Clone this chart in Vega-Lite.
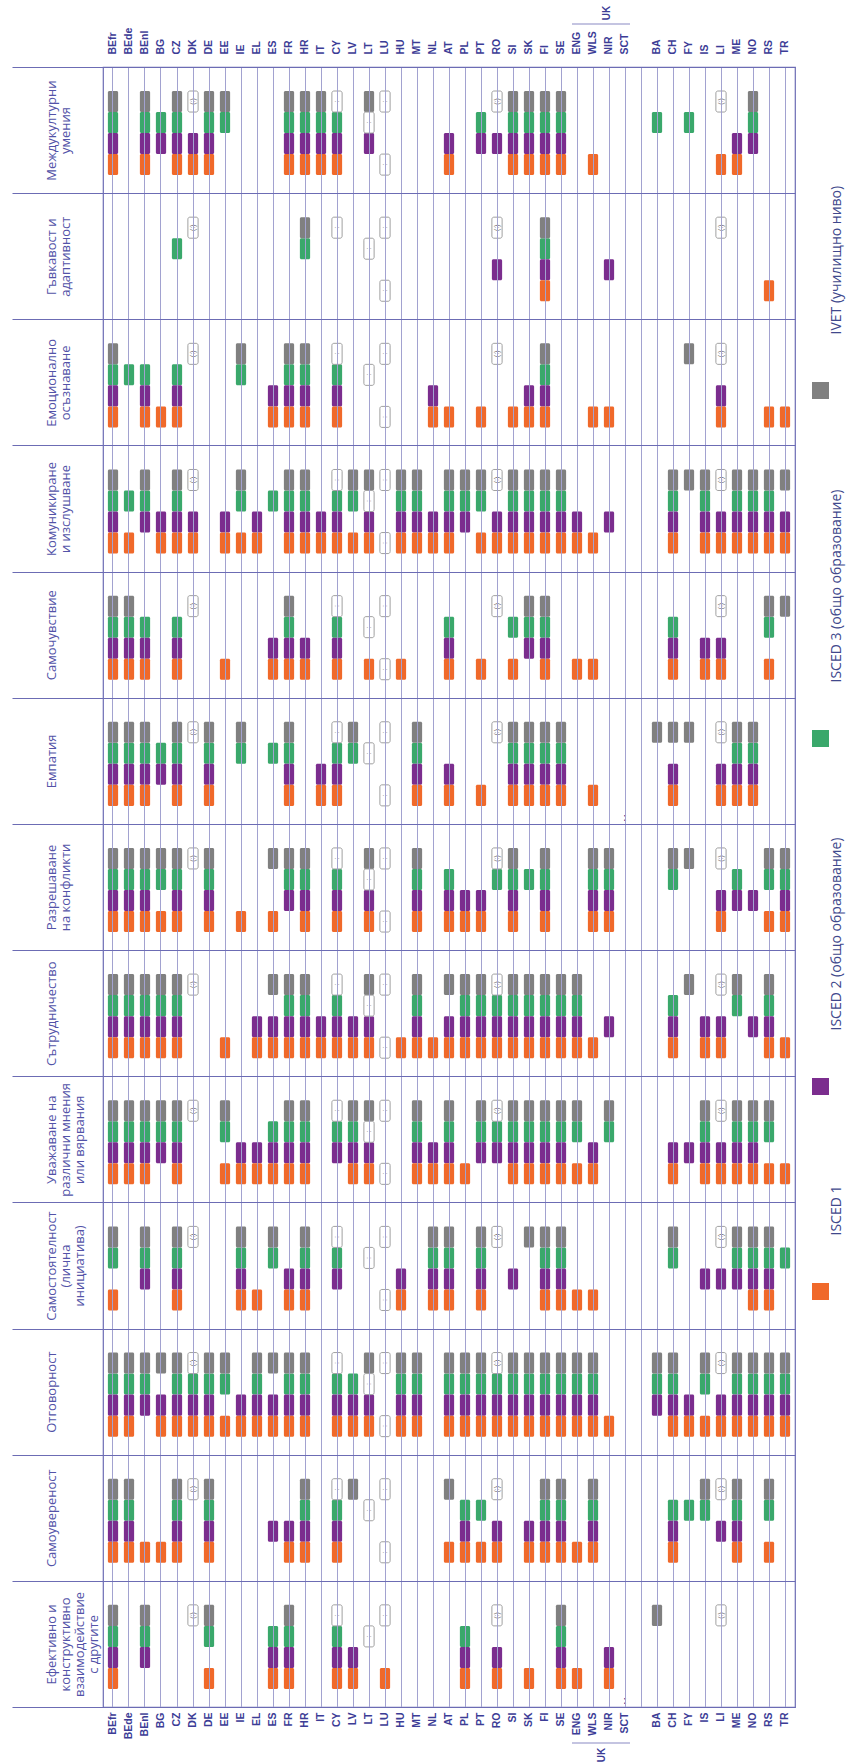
{
  "$schema": "https://vega.github.io/schema/vega-lite/v6.json",
  "width": 692,
  "height": 1640,
  "autosize": {"type": "none"},
  "padding": {"left": 103, "top": 67, "right": 52, "bottom": 57},
  "background": "white",
  "config": {"view": {"stroke": "#6c6cb4", "strokeWidth": 1.2}},
  "datasets": {
    "cells": [
      {"c":"C1","k":"BEfr","v":["IV","I3","I2","I1"]},{"c":"C1","k":"BEnl","v":["IV","I3","I2","I1"]},{"c":"C1","k":"BG","v":["I3","I2"]},{"c":"C1","k":"CZ","v":["IV","I3","I2","I1"]},{"c":"C1","k":"DK","v":["I2","I1"]},{"c":"C1","k":"DE","v":["IV","I3","I2","I1"]},{"c":"C1","k":"EE","v":["IV","I3"]},{"c":"C1","k":"FR","v":["IV","I3","I2","I1"]},{"c":"C1","k":"HR","v":["IV","I3","I2","I1"]},{"c":"C1","k":"IT","v":["IV","I3","I2","I1"]},{"c":"C1","k":"CY","v":["I3","I2","I1"]},{"c":"C1","k":"LT","v":["IV","I2"]},{"c":"C1","k":"AT","v":["I2","I1"]},{"c":"C1","k":"PT","v":["I3","I2"]},{"c":"C1","k":"RO","v":["I2"]},{"c":"C1","k":"SI","v":["IV","I3","I2","I1"]},{"c":"C1","k":"SK","v":["IV","I3","I2","I1"]},{"c":"C1","k":"FI","v":["IV","I3","I2","I1"]},{"c":"C1","k":"SE","v":["IV","I3","I2","I1"]},{"c":"C1","k":"WLS","v":["I1"]},{"c":"C1","k":"BA","v":["I3"]},{"c":"C1","k":"FY","v":["I3"]},{"c":"C1","k":"LI","v":["I1"]},{"c":"C1","k":"ME","v":["I2","I1"]},{"c":"C1","k":"NO","v":["IV","I3","I2"]},
      {"c":"C2","k":"CZ","v":["I3"]},{"c":"C2","k":"HR","v":["IV","I3"]},{"c":"C2","k":"RO","v":["I2"]},{"c":"C2","k":"FI","v":["IV","I3","I2","I1"]},{"c":"C2","k":"NIR","v":["I2"]},{"c":"C2","k":"RS","v":["I1"]},
      {"c":"C3","k":"BEfr","v":["IV","I3","I2","I1"]},{"c":"C3","k":"BEde","v":["I3"]},{"c":"C3","k":"BEnl","v":["I3","I2","I1"]},{"c":"C3","k":"BG","v":["I1"]},{"c":"C3","k":"CZ","v":["I3","I2","I1"]},{"c":"C3","k":"IE","v":["IV","I3"]},{"c":"C3","k":"ES","v":["I2","I1"]},{"c":"C3","k":"FR","v":["IV","I3","I2","I1"]},{"c":"C3","k":"HR","v":["IV","I3","I2","I1"]},{"c":"C3","k":"CY","v":["I3","I2","I1"]},{"c":"C3","k":"NL","v":["I2","I1"]},{"c":"C3","k":"AT","v":["I1"]},{"c":"C3","k":"PT","v":["I1"]},{"c":"C3","k":"SI","v":["I1"]},{"c":"C3","k":"SK","v":["I2","I1"]},{"c":"C3","k":"FI","v":["IV","I3","I2","I1"]},{"c":"C3","k":"WLS","v":["I1"]},{"c":"C3","k":"NIR","v":["I1"]},{"c":"C3","k":"FY","v":["IV"]},{"c":"C3","k":"LI","v":["I2","I1"]},{"c":"C3","k":"RS","v":["I1"]},{"c":"C3","k":"TR","v":["I1"]},
      {"c":"C4","k":"BEfr","v":["IV","I3","I2","I1"]},{"c":"C4","k":"BEde","v":["I3","I1"]},{"c":"C4","k":"BEnl","v":["IV","I3","I2"]},{"c":"C4","k":"BG","v":["I2","I1"]},{"c":"C4","k":"CZ","v":["IV","I3","I2","I1"]},{"c":"C4","k":"DK","v":["I2","I1"]},{"c":"C4","k":"EE","v":["I2","I1"]},{"c":"C4","k":"IE","v":["IV","I3","I1"]},{"c":"C4","k":"EL","v":["I2","I1"]},{"c":"C4","k":"ES","v":["I3"]},{"c":"C4","k":"FR","v":["IV","I3","I2","I1"]},{"c":"C4","k":"HR","v":["IV","I3","I2","I1"]},{"c":"C4","k":"IT","v":["I2","I1"]},{"c":"C4","k":"CY","v":["I3","I2","I1"]},{"c":"C4","k":"LV","v":["IV","I3","I1"]},{"c":"C4","k":"LT","v":["IV","I2","I1"]},{"c":"C4","k":"HU","v":["IV","I3","I2","I1"]},{"c":"C4","k":"MT","v":["IV","I3","I2","I1"]},{"c":"C4","k":"NL","v":["I2","I1"]},{"c":"C4","k":"AT","v":["IV","I3","I2","I1"]},{"c":"C4","k":"PL","v":["IV","I3","I2"]},{"c":"C4","k":"PT","v":["IV","I3","I1"]},{"c":"C4","k":"RO","v":["I2","I1"]},{"c":"C4","k":"SI","v":["IV","I3","I2","I1"]},{"c":"C4","k":"SK","v":["IV","I3","I2","I1"]},{"c":"C4","k":"FI","v":["IV","I3","I2","I1"]},{"c":"C4","k":"SE","v":["IV","I3","I2","I1"]},{"c":"C4","k":"ENG","v":["I2","I1"]},{"c":"C4","k":"WLS","v":["I1"]},{"c":"C4","k":"NIR","v":["I2"]},{"c":"C4","k":"CH","v":["IV","I3","I2","I1"]},{"c":"C4","k":"FY","v":["IV"]},{"c":"C4","k":"IS","v":["IV","I3","I2","I1"]},{"c":"C4","k":"LI","v":["I2","I1"]},{"c":"C4","k":"ME","v":["IV","I3","I2","I1"]},{"c":"C4","k":"NO","v":["IV","I3","I2","I1"]},{"c":"C4","k":"RS","v":["IV","I3","I2","I1"]},{"c":"C4","k":"TR","v":["IV","I2","I1"]},
      {"c":"C5","k":"BEfr","v":["IV","I3","I2","I1"]},{"c":"C5","k":"BEde","v":["IV","I3","I2","I1"]},{"c":"C5","k":"BEnl","v":["I3","I2","I1"]},{"c":"C5","k":"CZ","v":["I3","I2","I1"]},{"c":"C5","k":"EE","v":["I1"]},{"c":"C5","k":"ES","v":["I2","I1"]},{"c":"C5","k":"FR","v":["IV","I3","I2","I1"]},{"c":"C5","k":"HR","v":["I2","I1"]},{"c":"C5","k":"CY","v":["I3","I2","I1"]},{"c":"C5","k":"LT","v":["I1"]},{"c":"C5","k":"HU","v":["I1"]},{"c":"C5","k":"AT","v":["I3","I2","I1"]},{"c":"C5","k":"PT","v":["I1"]},{"c":"C5","k":"SI","v":["I3","I1"]},{"c":"C5","k":"SK","v":["IV","I3","I2"]},{"c":"C5","k":"FI","v":["IV","I3","I2","I1"]},{"c":"C5","k":"ENG","v":["I1"]},{"c":"C5","k":"WLS","v":["I1"]},{"c":"C5","k":"CH","v":["I3","I2","I1"]},{"c":"C5","k":"IS","v":["I2","I1"]},{"c":"C5","k":"LI","v":["I2","I1"]},{"c":"C5","k":"RS","v":["IV","I3","I1"]},{"c":"C5","k":"TR","v":["IV"]},
      {"c":"C6","k":"BEfr","v":["IV","I3","I2","I1"]},{"c":"C6","k":"BEde","v":["IV","I3","I2","I1"]},{"c":"C6","k":"BEnl","v":["IV","I3","I2","I1"]},{"c":"C6","k":"BG","v":["I3","I2"]},{"c":"C6","k":"CZ","v":["IV","I3","I2","I1"]},{"c":"C6","k":"DE","v":["IV","I3","I2","I1"]},{"c":"C6","k":"IE","v":["IV","I3"]},{"c":"C6","k":"ES","v":["I3"]},{"c":"C6","k":"FR","v":["IV","I3","I2","I1"]},{"c":"C6","k":"IT","v":["I2","I1"]},{"c":"C6","k":"CY","v":["I3","I2","I1"]},{"c":"C6","k":"LV","v":["IV","I3"]},{"c":"C6","k":"MT","v":["IV","I3","I2","I1"]},{"c":"C6","k":"AT","v":["I2","I1"]},{"c":"C6","k":"PT","v":["I1"]},{"c":"C6","k":"SI","v":["IV","I3","I2","I1"]},{"c":"C6","k":"SK","v":["IV","I3","I2","I1"]},{"c":"C6","k":"FI","v":["IV","I3","I2","I1"]},{"c":"C6","k":"SE","v":["IV","I3","I2","I1"]},{"c":"C6","k":"WLS","v":["I1"]},{"c":"C6","k":"BA","v":["IV"]},{"c":"C6","k":"CH","v":["IV","I2","I1"]},{"c":"C6","k":"FY","v":["IV"]},{"c":"C6","k":"LI","v":["I2","I1"]},{"c":"C6","k":"ME","v":["IV","I3","I2","I1"]},{"c":"C6","k":"NO","v":["IV","I3","I2","I1"]},
      {"c":"C7","k":"BEfr","v":["IV","I3","I2","I1"]},{"c":"C7","k":"BEde","v":["IV","I3","I2","I1"]},{"c":"C7","k":"BEnl","v":["IV","I3","I2","I1"]},{"c":"C7","k":"BG","v":["IV","I3","I1"]},{"c":"C7","k":"CZ","v":["IV","I3","I2","I1"]},{"c":"C7","k":"DE","v":["IV","I3","I2","I1"]},{"c":"C7","k":"IE","v":["I1"]},{"c":"C7","k":"ES","v":["IV","I1"]},{"c":"C7","k":"FR","v":["IV","I3","I2"]},{"c":"C7","k":"HR","v":["IV","I3","I2","I1"]},{"c":"C7","k":"CY","v":["I3","I2","I1"]},{"c":"C7","k":"LT","v":["IV","I2","I1"]},{"c":"C7","k":"MT","v":["IV","I3","I2","I1"]},{"c":"C7","k":"AT","v":["I3","I2","I1"]},{"c":"C7","k":"PL","v":["I2","I1"]},{"c":"C7","k":"PT","v":["I2","I1"]},{"c":"C7","k":"RO","v":["I3"]},{"c":"C7","k":"SI","v":["IV","I3","I2","I1"]},{"c":"C7","k":"SK","v":["I3"]},{"c":"C7","k":"FI","v":["IV","I3","I2","I1"]},{"c":"C7","k":"WLS","v":["IV","I3","I2","I1"]},{"c":"C7","k":"NIR","v":["IV","I3","I2","I1"]},{"c":"C7","k":"CH","v":["IV","I3"]},{"c":"C7","k":"FY","v":["IV"]},{"c":"C7","k":"LI","v":["I2","I1"]},{"c":"C7","k":"ME","v":["I3","I2"]},{"c":"C7","k":"NO","v":["I2"]},{"c":"C7","k":"RS","v":["IV","I3","I1"]},{"c":"C7","k":"TR","v":["IV","I3","I2","I1"]},
      {"c":"C8","k":"BEfr","v":["IV","I3","I2","I1"]},{"c":"C8","k":"BEde","v":["IV","I3","I2","I1"]},{"c":"C8","k":"BEnl","v":["IV","I3","I2","I1"]},{"c":"C8","k":"BG","v":["IV","I3","I2","I1"]},{"c":"C8","k":"CZ","v":["IV","I3","I2","I1"]},{"c":"C8","k":"EE","v":["I1"]},{"c":"C8","k":"EL","v":["I2","I1"]},{"c":"C8","k":"ES","v":["IV","I2","I1"]},{"c":"C8","k":"FR","v":["IV","I3","I2","I1"]},{"c":"C8","k":"HR","v":["IV","I3","I2","I1"]},{"c":"C8","k":"IT","v":["I2","I1"]},{"c":"C8","k":"CY","v":["I3","I2","I1"]},{"c":"C8","k":"LV","v":["I2","I1"]},{"c":"C8","k":"LT","v":["IV","I2","I1"]},{"c":"C8","k":"HU","v":["I1"]},{"c":"C8","k":"MT","v":["IV","I3","I2","I1"]},{"c":"C8","k":"NL","v":["I1"]},{"c":"C8","k":"AT","v":["IV","I2","I1"]},{"c":"C8","k":"PL","v":["IV","I3","I2","I1"]},{"c":"C8","k":"PT","v":["IV","I3","I2","I1"]},{"c":"C8","k":"RO","v":["I3","I2","I1"]},{"c":"C8","k":"SI","v":["IV","I3","I2","I1"]},{"c":"C8","k":"SK","v":["IV","I3","I2","I1"]},{"c":"C8","k":"FI","v":["IV","I3","I2","I1"]},{"c":"C8","k":"SE","v":["IV","I3","I2","I1"]},{"c":"C8","k":"ENG","v":["IV","I3","I2","I1"]},{"c":"C8","k":"WLS","v":["I1"]},{"c":"C8","k":"NIR","v":["I2"]},{"c":"C8","k":"CH","v":["I3","I2","I1"]},{"c":"C8","k":"FY","v":["IV"]},{"c":"C8","k":"IS","v":["I2","I1"]},{"c":"C8","k":"LI","v":["I2","I1"]},{"c":"C8","k":"ME","v":["IV","I3"]},{"c":"C8","k":"NO","v":["I2"]},{"c":"C8","k":"RS","v":["IV","I3","I2","I1"]},{"c":"C8","k":"TR","v":["I1"]},
      {"c":"C9","k":"BEfr","v":["IV","I3","I2","I1"]},{"c":"C9","k":"BEde","v":["IV","I3","I2","I1"]},{"c":"C9","k":"BEnl","v":["IV","I3","I2","I1"]},{"c":"C9","k":"BG","v":["IV","I3","I2"]},{"c":"C9","k":"CZ","v":["IV","I3","I2","I1"]},{"c":"C9","k":"EE","v":["IV","I3","I1"]},{"c":"C9","k":"IE","v":["I2","I1"]},{"c":"C9","k":"EL","v":["I2","I1"]},{"c":"C9","k":"ES","v":["I3","I2","I1"]},{"c":"C9","k":"FR","v":["IV","I3","I2","I1"]},{"c":"C9","k":"HR","v":["IV","I3","I2","I1"]},{"c":"C9","k":"CY","v":["I3","I2"]},{"c":"C9","k":"LV","v":["IV","I3","I2","I1"]},{"c":"C9","k":"LT","v":["IV","I2","I1"]},{"c":"C9","k":"MT","v":["IV","I3","I2","I1"]},{"c":"C9","k":"NL","v":["I2","I1"]},{"c":"C9","k":"AT","v":["IV","I3","I2","I1"]},{"c":"C9","k":"PL","v":["I1"]},{"c":"C9","k":"PT","v":["IV","I3","I2"]},{"c":"C9","k":"RO","v":["I3","I2"]},{"c":"C9","k":"SI","v":["IV","I3","I2","I1"]},{"c":"C9","k":"SK","v":["IV","I3","I2","I1"]},{"c":"C9","k":"FI","v":["IV","I3","I2","I1"]},{"c":"C9","k":"SE","v":["IV","I3","I2","I1"]},{"c":"C9","k":"ENG","v":["IV","I3","I1"]},{"c":"C9","k":"WLS","v":["I2","I1"]},{"c":"C9","k":"NIR","v":["IV","I3"]},{"c":"C9","k":"CH","v":["I2","I1"]},{"c":"C9","k":"FY","v":["I2"]},{"c":"C9","k":"IS","v":["IV","I3","I2","I1"]},{"c":"C9","k":"LI","v":["I2","I1"]},{"c":"C9","k":"ME","v":["IV","I3","I2","I1"]},{"c":"C9","k":"NO","v":["IV","I3","I2","I1"]},{"c":"C9","k":"RS","v":["IV","I3","I1"]},{"c":"C9","k":"TR","v":["I1"]},
      {"c":"C10","k":"BEfr","v":["IV","I3","I1"]},{"c":"C10","k":"BEnl","v":["IV","I3","I2"]},{"c":"C10","k":"CZ","v":["IV","I3","I2","I1"]},{"c":"C10","k":"IE","v":["IV","I3","I2","I1"]},{"c":"C10","k":"EL","v":["I1"]},{"c":"C10","k":"ES","v":["IV","I3"]},{"c":"C10","k":"FR","v":["I2","I1"]},{"c":"C10","k":"HR","v":["IV","I3","I2","I1"]},{"c":"C10","k":"CY","v":["I3","I2"]},{"c":"C10","k":"HU","v":["I2","I1"]},{"c":"C10","k":"NL","v":["IV","I3","I2","I1"]},{"c":"C10","k":"AT","v":["IV","I3","I2","I1"]},{"c":"C10","k":"PT","v":["IV","I3","I2","I1"]},{"c":"C10","k":"SI","v":["I2"]},{"c":"C10","k":"SK","v":["IV"]},{"c":"C10","k":"FI","v":["IV","I3","I2","I1"]},{"c":"C10","k":"SE","v":["IV","I3","I2","I1"]},{"c":"C10","k":"ENG","v":["I1"]},{"c":"C10","k":"WLS","v":["I1"]},{"c":"C10","k":"CH","v":["IV","I3"]},{"c":"C10","k":"IS","v":["I2"]},{"c":"C10","k":"LI","v":["I2"]},{"c":"C10","k":"ME","v":["IV","I3","I2"]},{"c":"C10","k":"NO","v":["IV","I3","I2","I1"]},{"c":"C10","k":"RS","v":["IV","I3","I2","I1"]},{"c":"C10","k":"TR","v":["I3"]},
      {"c":"C11","k":"BEfr","v":["IV","I3","I2","I1"]},{"c":"C11","k":"BEde","v":["IV","I3","I2","I1"]},{"c":"C11","k":"BEnl","v":["IV","I3","I2"]},{"c":"C11","k":"BG","v":["IV","I2","I1"]},{"c":"C11","k":"CZ","v":["IV","I3","I2","I1"]},{"c":"C11","k":"DK","v":["I3","I2","I1"]},{"c":"C11","k":"DE","v":["IV","I3","I2","I1"]},{"c":"C11","k":"EE","v":["IV","I3","I1"]},{"c":"C11","k":"IE","v":["I2","I1"]},{"c":"C11","k":"EL","v":["IV","I3","I2","I1"]},{"c":"C11","k":"ES","v":["IV","I2","I1"]},{"c":"C11","k":"FR","v":["IV","I3","I2","I1"]},{"c":"C11","k":"HR","v":["IV","I3","I2","I1"]},{"c":"C11","k":"CY","v":["I3","I2","I1"]},{"c":"C11","k":"LV","v":["I3","I2","I1"]},{"c":"C11","k":"LT","v":["IV","I2","I1"]},{"c":"C11","k":"HU","v":["IV","I3","I2","I1"]},{"c":"C11","k":"MT","v":["IV","I3","I2","I1"]},{"c":"C11","k":"AT","v":["IV","I3","I2","I1"]},{"c":"C11","k":"PL","v":["IV","I3","I2","I1"]},{"c":"C11","k":"PT","v":["IV","I3","I2","I1"]},{"c":"C11","k":"RO","v":["I3","I2","I1"]},{"c":"C11","k":"SI","v":["IV","I3","I2","I1"]},{"c":"C11","k":"SK","v":["IV","I3","I2","I1"]},{"c":"C11","k":"FI","v":["IV","I3","I2","I1"]},{"c":"C11","k":"SE","v":["IV","I3","I2","I1"]},{"c":"C11","k":"ENG","v":["IV","I3","I2","I1"]},{"c":"C11","k":"WLS","v":["IV","I3","I2","I1"]},{"c":"C11","k":"NIR","v":["I1"]},{"c":"C11","k":"BA","v":["IV","I3","I2"]},{"c":"C11","k":"CH","v":["IV","I3","I2","I1"]},{"c":"C11","k":"FY","v":["I2","I1"]},{"c":"C11","k":"IS","v":["IV","I3","I1"]},{"c":"C11","k":"LI","v":["I2","I1"]},{"c":"C11","k":"ME","v":["IV","I3","I2","I1"]},{"c":"C11","k":"NO","v":["IV","I3","I2","I1"]},{"c":"C11","k":"RS","v":["IV","I3","I2","I1"]},{"c":"C11","k":"TR","v":["IV","I3","I2","I1"]},
      {"c":"C12","k":"BEfr","v":["IV","I3","I2","I1"]},{"c":"C12","k":"BEde","v":["IV","I3","I2","I1"]},{"c":"C12","k":"BEnl","v":["I1"]},{"c":"C12","k":"BG","v":["I1"]},{"c":"C12","k":"CZ","v":["IV","I3","I2","I1"]},{"c":"C12","k":"DE","v":["IV","I3","I2","I1"]},{"c":"C12","k":"ES","v":["I2"]},{"c":"C12","k":"FR","v":["I2","I1"]},{"c":"C12","k":"HR","v":["IV","I3","I2","I1"]},{"c":"C12","k":"CY","v":["I3","I2","I1"]},{"c":"C12","k":"LV","v":["IV"]},{"c":"C12","k":"AT","v":["IV","I1"]},{"c":"C12","k":"PL","v":["I3","I2","I1"]},{"c":"C12","k":"PT","v":["I3","I1"]},{"c":"C12","k":"RO","v":["I2","I1"]},{"c":"C12","k":"SK","v":["I2","I1"]},{"c":"C12","k":"FI","v":["IV","I3","I2","I1"]},{"c":"C12","k":"SE","v":["IV","I3","I2","I1"]},{"c":"C12","k":"ENG","v":["I1"]},{"c":"C12","k":"WLS","v":["IV","I3","I2","I1"]},{"c":"C12","k":"CH","v":["I3","I2","I1"]},{"c":"C12","k":"FY","v":["I3"]},{"c":"C12","k":"IS","v":["IV","I3"]},{"c":"C12","k":"LI","v":["I2"]},{"c":"C12","k":"ME","v":["IV","I3","I2","I1"]},{"c":"C12","k":"RS","v":["IV","I3","I1"]},
      {"c":"C13","k":"BEfr","v":["IV","I3","I2","I1"]},{"c":"C13","k":"BEnl","v":["IV","I3","I2"]},{"c":"C13","k":"DE","v":["IV","I3","I1"]},{"c":"C13","k":"ES","v":["I3","I2","I1"]},{"c":"C13","k":"FR","v":["IV","I3","I2","I1"]},{"c":"C13","k":"CY","v":["I3","I2","I1"]},{"c":"C13","k":"LV","v":["I2","I1"]},{"c":"C13","k":"LU","v":["I1"]},{"c":"C13","k":"PL","v":["I3","I2","I1"]},{"c":"C13","k":"RO","v":["I2","I1"]},{"c":"C13","k":"SK","v":["I1"]},{"c":"C13","k":"SE","v":["IV","I3","I2","I1"]},{"c":"C13","k":"ENG","v":["I1"]},{"c":"C13","k":"NIR","v":["I2","I1"]},{"c":"C13","k":"BA","v":["IV"]}
    ],
    "notes": [
      {"k":"DK","l":"IV","t":"(:)","c":["C1","C2","C3","C4","C5","C6","C7","C8","C9","C10","C11","C12","C13"]},
      {"k":"CY","l":"IV","t":":","c":["C1","C2","C3","C4","C5","C6","C7","C8","C9","C10","C11","C12","C13"]},
      {"k":"LT","l":"I3","t":":","c":["C1","C2","C3","C4","C5","C6","C7","C8","C9","C10","C11","C12","C13"]},
      {"k":"LU","l":"IV","t":":","c":["C1","C2","C3","C4","C5","C6","C7","C8","C9","C10","C11","C12","C13"]},
      {"k":"LU","l":"I1","t":":","c":["C1","C2","C3","C4","C5","C6","C7","C8","C9","C10","C11","C12"]},
      {"k":"RO","l":"IV","t":"(:)","c":["C1","C2","C3","C4","C5","C6","C7","C8","C9","C10","C11","C12","C13"]},
      {"k":"LI","l":"IV","t":"(:)","c":["C1","C2","C3","C4","C5","C6","C7","C8","C9","C10","C11","C12","C13"]}
    ],
    "sct": [{"c":"C6","k":"SCT","t":":"},{"c":"C13","k":"SCT","t":":"}],
    "uk": [{"from":"ENG","to":"SCT","label":"UK"}]
  },
  "layer": [
    {
      "data": {"name": "cells"},
      "transform": [{"flatten": ["v"]}, {"filter": "datum.v != 'IV'"}],
      "mark": {"type": "rect", "cornerRadius": 1.5},
      "encoding": {
        "x": {"field": "k", "type": "nominal", "title": null,
          "scale": {"domain": ["BEfr","BEde","BEnl","BG","CZ","DK","DE","EE","IE","EL","ES","FR","HR","IT","CY","LV","LT","LU","HU","MT","NL","AT","PL","PT","RO","SI","SK","FI","SE","ENG","WLS","NIR","SCT","_","BA","CH","FY","IS","LI","ME","NO","RS","TR"], "paddingInner": 0.36, "paddingOuter": 0.305},
          "axis": {"orient": "top", "title": null, "labelAngle": -90, "labelAlign": "left", "labelBaseline": "middle", "labelPadding": 13, "ticks": false, "domain": false, "grid": true, "gridColor": "#a2a2d0", "gridWidth": 1, "labelFont": "Liberation Sans", "labelFontSize": 10.5, "labelFontWeight": "bold", "labelColor": "#3c3c96", "labelOverlap": false, "labelBound": false, "labelExpr": "datum.value == '_' ? '' : datum.value"}},
        "y": {"field": "c", "type": "nominal", "title": null,
          "scale": {"domain": ["C1","C2","C3","C4","C5","C6","C7","C8","C9","C10","C11","C12","C13"], "paddingInner": 0, "paddingOuter": 0},
          "axis": {"orient": "left", "title": null, "tickBand": "extent", "ticks": true, "tickSize": 91, "tickColor": "#6c6cb4", "tickWidth": 1.2, "grid": true, "gridColor": "#6c6cb4", "gridWidth": 1.2, "domain": false, "labelAngle": -90, "labelAlign": "center", "labelBaseline": "middle", "labelPadding": -39, "labelFont": "Open Sans", "labelFontSize": 13, "labelLineHeight": 14, "labelColor": "#5353a8", "labelOverlap": false, "labelBound": false, "labelLimit": 0,
            "labelExpr": "{'C1':['Междукултурни','умения'],'C2':['Гъвкавост и','адаптивност'],'C3':['Емоционално','осъзнаване'],'C4':['Комуникиране','и изслушване'],'C5':'Самочувствие','C6':'Емпатия','C7':['Разрешаване','на конфликти'],'C8':'Сътрудничество','C9':['Уважаване на','различни мнения','или вярвания'],'C10':['Самостоятелност','(лична','инициатива)'],'C11':'Отговорност','C12':'Самоувереност','C13':['Ефективно и','конструктивно','взаимодействие','с другите']}[datum.value]"}},
        "yOffset": {"field": "v", "type": "nominal", "scale": {"domain": ["IV","I3","I2","I1"], "paddingInner": 0, "paddingOuter": 1, "align": 0.571}},
        "color": {"field": "v", "type": "nominal",
          "scale": {"domain": ["IV","I3","I2","I1"], "range": ["#808080","#3aa86b","#7b2d8e","#f0692a"]},
          "legend": {"orient": "none", "legendX": 709, "legendY": 315, "direction": "vertical", "title": null, "symbolType": "square", "symbolSize": 289, "symbolStrokeWidth": 0, "symbolOpacity": 1, "labelFont": "Open Sans", "labelFontSize": 14, "labelColor": "#40488c", "labelAlign": "left", "labelBaseline": "middle", "labelOffset": 7.5, "labelLimit": 0, "rowPadding": 90, "padding": 0,
            "labelExpr": "{'IV':'IVET (училищно ниво)','I3':'ISCED 3 (общо образование)','I2':'ISCED 2 (общо образование)','I1':'ISCED 1                                                  '}[datum.value]",
            "encode": {"labels": {"update": {"angle": {"value": -90}, "dx": {"value": 56}}}}}}
      }
    },
    {
      "data": {"name": "cells"},
      "transform": [{"flatten": ["v"]}, {"filter": "datum.v == 'IV'"}],
      "mark": {"type": "rect", "cornerRadius": 1.5, "yOffset": -6},
      "encoding": {
        "x": {"field": "k", "type": "nominal", "title": null,
          "scale": {"domain": ["BEfr","BEde","BEnl","BG","CZ","DK","DE","EE","IE","EL","ES","FR","HR","IT","CY","LV","LT","LU","HU","MT","NL","AT","PL","PT","RO","SI","SK","FI","SE","ENG","WLS","NIR","SCT","_","BA","CH","FY","IS","LI","ME","NO","RS","TR"], "paddingInner": 0.36, "paddingOuter": 0.305},
          "axis": {"orient": "bottom", "title": null, "labelAngle": -90, "labelAlign": "right", "labelBaseline": "middle", "labelPadding": 5, "ticks": false, "domain": false, "grid": false, "labelFont": "Liberation Sans", "labelFontSize": 10.5, "labelFontWeight": "bold", "labelColor": "#3c3c96", "labelOverlap": false, "labelBound": false, "labelExpr": "datum.value == '_' ? '' : datum.value"}},
        "y": {"field": "c", "type": "nominal", "title": null,
          "scale": {"domain": ["C1","C2","C3","C4","C5","C6","C7","C8","C9","C10","C11","C12","C13"], "paddingInner": 0, "paddingOuter": 0}},
        "yOffset": {"field": "v", "type": "nominal", "scale": {"domain": ["IV","I3","I2","I1"], "paddingInner": 0, "paddingOuter": 1, "align": 0.571}},
        "color": {"field": "v", "type": "nominal",
          "scale": {"domain": ["IV","I3","I2","I1"], "range": ["#808080","#3aa86b","#7b2d8e","#f0692a"]}}
      }
    },
    {
      "data": {"name": "notes"},
      "transform": [{"flatten": ["c"]}, {"filter": "datum.l != 'IV'"}],
      "mark": {"type": "rect", "cornerRadius": 2, "fill": "white", "stroke": "#a0a0a0", "strokeWidth": 1},
      "encoding": {
        "x": {"field": "k", "type": "nominal", "axis": null,
          "scale": {"domain": ["BEfr","BEde","BEnl","BG","CZ","DK","DE","EE","IE","EL","ES","FR","HR","IT","CY","LV","LT","LU","HU","MT","NL","AT","PL","PT","RO","SI","SK","FI","SE","ENG","WLS","NIR","SCT","_","BA","CH","FY","IS","LI","ME","NO","RS","TR"], "paddingInner": 0.36, "paddingOuter": 0.305}},
        "y": {"field": "c", "type": "nominal", "title": null,
          "scale": {"domain": ["C1","C2","C3","C4","C5","C6","C7","C8","C9","C10","C11","C12","C13"], "paddingInner": 0, "paddingOuter": 0}},
        "yOffset": {"field": "l", "type": "nominal", "scale": {"domain": ["IV","I3","I2","I1"], "paddingInner": 0, "paddingOuter": 1, "align": 0.571}}
      }
    },
    {
      "data": {"name": "notes"},
      "transform": [{"flatten": ["c"]}, {"filter": "datum.l == 'IV'"}],
      "mark": {"type": "rect", "cornerRadius": 2, "fill": "white", "stroke": "#a0a0a0", "strokeWidth": 1, "yOffset": -6},
      "encoding": {
        "x": {"field": "k", "type": "nominal", "axis": null,
          "scale": {"domain": ["BEfr","BEde","BEnl","BG","CZ","DK","DE","EE","IE","EL","ES","FR","HR","IT","CY","LV","LT","LU","HU","MT","NL","AT","PL","PT","RO","SI","SK","FI","SE","ENG","WLS","NIR","SCT","_","BA","CH","FY","IS","LI","ME","NO","RS","TR"], "paddingInner": 0.36, "paddingOuter": 0.305}},
        "y": {"field": "c", "type": "nominal", "title": null,
          "scale": {"domain": ["C1","C2","C3","C4","C5","C6","C7","C8","C9","C10","C11","C12","C13"], "paddingInner": 0, "paddingOuter": 0}},
        "yOffset": {"field": "l", "type": "nominal", "scale": {"domain": ["IV","I3","I2","I1"], "paddingInner": 0, "paddingOuter": 1, "align": 0.571}}
      }
    },
    {
      "data": {"name": "notes"},
      "transform": [{"flatten": ["c"]}, {"filter": "datum.l != 'IV'"}],
      "mark": {"type": "text", "angle": -90, "fontSize": 7, "font": "Liberation Sans", "color": "#555555", "align": "center", "baseline": "middle"},
      "encoding": {
        "x": {"field": "k", "type": "nominal", "axis": null,
          "scale": {"domain": ["BEfr","BEde","BEnl","BG","CZ","DK","DE","EE","IE","EL","ES","FR","HR","IT","CY","LV","LT","LU","HU","MT","NL","AT","PL","PT","RO","SI","SK","FI","SE","ENG","WLS","NIR","SCT","_","BA","CH","FY","IS","LI","ME","NO","RS","TR"], "paddingInner": 0.36, "paddingOuter": 0.305}},
        "y": {"field": "c", "type": "nominal", "title": null,
          "scale": {"domain": ["C1","C2","C3","C4","C5","C6","C7","C8","C9","C10","C11","C12","C13"], "paddingInner": 0, "paddingOuter": 0}},
        "yOffset": {"field": "l", "type": "nominal", "scale": {"domain": ["IV","I3","I2","I1"], "paddingInner": 0, "paddingOuter": 1, "align": 0.571}},
        "text": {"field": "t"}
      }
    },
    {
      "data": {"name": "notes"},
      "transform": [{"flatten": ["c"]}, {"filter": "datum.l == 'IV'"}],
      "mark": {"type": "text", "angle": -90, "fontSize": 7, "font": "Liberation Sans", "color": "#555555", "align": "center", "baseline": "middle", "yOffset": -6},
      "encoding": {
        "x": {"field": "k", "type": "nominal", "axis": null,
          "scale": {"domain": ["BEfr","BEde","BEnl","BG","CZ","DK","DE","EE","IE","EL","ES","FR","HR","IT","CY","LV","LT","LU","HU","MT","NL","AT","PL","PT","RO","SI","SK","FI","SE","ENG","WLS","NIR","SCT","_","BA","CH","FY","IS","LI","ME","NO","RS","TR"], "paddingInner": 0.36, "paddingOuter": 0.305}},
        "y": {"field": "c", "type": "nominal", "title": null,
          "scale": {"domain": ["C1","C2","C3","C4","C5","C6","C7","C8","C9","C10","C11","C12","C13"], "paddingInner": 0, "paddingOuter": 0}},
        "yOffset": {"field": "l", "type": "nominal", "scale": {"domain": ["IV","I3","I2","I1"], "paddingInner": 0, "paddingOuter": 1, "align": 0.571}},
        "text": {"field": "t"}
      }
    },
    {
      "data": {"name": "sct"},
      "mark": {"type": "text", "fontSize": 10, "fontWeight": "bold", "font": "Liberation Sans", "color": "#3c3c96", "align": "center", "baseline": "bottom", "yOffset": -1},
      "encoding": {
        "x": {"field": "k", "type": "nominal", "axis": null,
          "scale": {"domain": ["BEfr","BEde","BEnl","BG","CZ","DK","DE","EE","IE","EL","ES","FR","HR","IT","CY","LV","LT","LU","HU","MT","NL","AT","PL","PT","RO","SI","SK","FI","SE","ENG","WLS","NIR","SCT","_","BA","CH","FY","IS","LI","ME","NO","RS","TR"], "paddingInner": 0.36, "paddingOuter": 0.305}},
        "y": {"field": "c", "type": "nominal", "title": null, "bandPosition": 1,
          "scale": {"domain": ["C1","C2","C3","C4","C5","C6","C7","C8","C9","C10","C11","C12","C13"], "paddingInner": 0, "paddingOuter": 0}},
        "text": {"field": "t"}
      }
    },
    {
      "data": {"name": "uk"},
      "mark": {"type": "rule", "color": "#8a8ac4", "strokeWidth": 1.2, "yOffset": -43, "xOffset": -5, "x2Offset": 5},
      "encoding": {
        "x": {"field": "from", "type": "nominal", "axis": null,
          "scale": {"domain": ["BEfr","BEde","BEnl","BG","CZ","DK","DE","EE","IE","EL","ES","FR","HR","IT","CY","LV","LT","LU","HU","MT","NL","AT","PL","PT","RO","SI","SK","FI","SE","ENG","WLS","NIR","SCT","_","BA","CH","FY","IS","LI","ME","NO","RS","TR"], "paddingInner": 0.36, "paddingOuter": 0.305}},
        "x2": {"field": "to"},
        "y": {"datum": "C1", "type": "nominal", "bandPosition": 0, "title": null}
      }
    },
    {
      "data": {"name": "uk"},
      "mark": {"type": "rule", "color": "#8a8ac4", "strokeWidth": 1.2, "yOffset": 36, "xOffset": -5, "x2Offset": 5},
      "encoding": {
        "x": {"field": "from", "type": "nominal", "axis": null,
          "scale": {"domain": ["BEfr","BEde","BEnl","BG","CZ","DK","DE","EE","IE","EL","ES","FR","HR","IT","CY","LV","LT","LU","HU","MT","NL","AT","PL","PT","RO","SI","SK","FI","SE","ENG","WLS","NIR","SCT","_","BA","CH","FY","IS","LI","ME","NO","RS","TR"], "paddingInner": 0.36, "paddingOuter": 0.305}},
        "x2": {"field": "to"},
        "y": {"datum": "C13", "type": "nominal", "bandPosition": 1, "title": null}
      }
    },
    {
      "data": {"name": "uk"},
      "mark": {"type": "text", "angle": -90, "fontSize": 10, "fontWeight": "bold", "font": "Liberation Sans", "color": "#3c3c96", "align": "center", "baseline": "middle", "yOffset": -54, "dy": -18},
      "encoding": {
        "x": {"field": "to", "type": "nominal", "axis": null,
          "scale": {"domain": ["BEfr","BEde","BEnl","BG","CZ","DK","DE","EE","IE","EL","ES","FR","HR","IT","CY","LV","LT","LU","HU","MT","NL","AT","PL","PT","RO","SI","SK","FI","SE","ENG","WLS","NIR","SCT","_","BA","CH","FY","IS","LI","ME","NO","RS","TR"], "paddingInner": 0.36, "paddingOuter": 0.305}},
        "y": {"datum": "C1", "type": "nominal", "bandPosition": 0, "title": null},
        "text": {"field": "label"}
      }
    },
    {
      "data": {"name": "uk"},
      "mark": {"type": "text", "angle": -90, "fontSize": 10, "fontWeight": "bold", "font": "Liberation Sans", "color": "#3c3c96", "align": "center", "baseline": "middle", "yOffset": 48, "dy": -23},
      "encoding": {
        "x": {"field": "to", "type": "nominal", "axis": null,
          "scale": {"domain": ["BEfr","BEde","BEnl","BG","CZ","DK","DE","EE","IE","EL","ES","FR","HR","IT","CY","LV","LT","LU","HU","MT","NL","AT","PL","PT","RO","SI","SK","FI","SE","ENG","WLS","NIR","SCT","_","BA","CH","FY","IS","LI","ME","NO","RS","TR"], "paddingInner": 0.36, "paddingOuter": 0.305}},
        "y": {"datum": "C13", "type": "nominal", "bandPosition": 1, "title": null},
        "text": {"field": "label"}
      }
    }
  ],
  "resolve": {"axis": {"x": "independent"}}
}
